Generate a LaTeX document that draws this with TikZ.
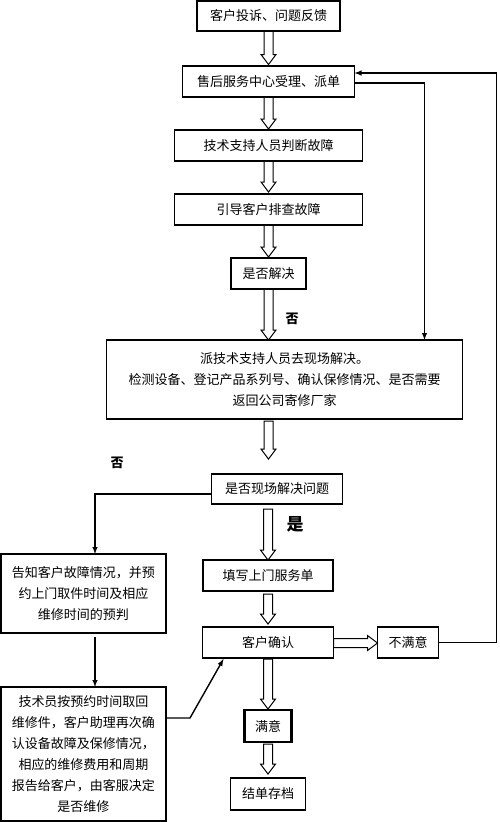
\documentclass[tikz,border=0pt]{standalone}
\usepackage{fontspec}
\setmainfont{Noto Sans CJK SC}
\usetikzlibrary{arrows,calc,positioning}
\tikzset{
flow/.style={>=latex,x=1pt,y=-1pt,node distance=33pt,line width=1.4pt},
stage/.style={rectangle,draw,line width=1.4pt,inner sep=2pt,outer sep=0pt,
    align=center,minimum width=#1,minimum height=31pt,
    font=\fontsize{13}{21}\selectfont},
stage/.default={130pt},
hollow/.style={line width=1pt,to path={
    let \p1=(\tikztostart), \p2=(\tikztotarget),
        \n1={atan2(\y2-\y1,\x2-\x1)} in
    ($(\p1)+(\n1+90:4.5pt)$) -- ($(\p2)+(\n1+180:10pt)+(\n1+90:4.5pt)$)
    -- ($(\p2)+(\n1+180:10pt)+(\n1+90:7.5pt)$) -- (\p2)
    -- ($(\p2)+(\n1+180:10pt)+(\n1-90:7.5pt)$)
    -- ($(\p2)+(\n1+180:10pt)+(\n1-90:4.5pt)$)
    -- ($(\p1)+(\n1-90:4.5pt)$) -- cycle}},
answer/.style={font=\bfseries\fontsize{13}{13}\selectfont},
}
\begin{document}
\begin{tikzpicture}[flow]
    \useasboundingbox (0,0) rectangle (500,822);

    \node[stage=143pt,line width=2.2pt,minimum height=30pt] (c1) at (268.5,16) {客户投诉、问题反馈};
    \node[stage=172pt,below=35pt of c1] (c2) {售后服务中心受理、派单};
    \node[stage=188pt,below=of c2] (c3) {技术支持人员判断故障};
    \node[stage=188pt,below=of c3] (c4) {引导客户排查故障};
    \node[stage=75pt,below=of c4] (c5) {是否解决};
    \node[stage=356pt,minimum height=79pt,below=51pt of c5,xshift=16pt] (c6)
        {派技术支持人员去现场解决。\\检测设备、登记产品系列号、确认保修情况、是否需要\\返回公司寄修厂家};
    \node[stage=131pt,minimum height=30pt,below=55pt of c6,xshift=-7.5pt] (c7) {是否现场解决问题};
    \node[stage=130pt,below=56pt of c7,xshift=-9pt] (c9) {填写上门服务单};
    \node[stage=131pt,below=36pt of c9] (c10) {客户确认};
    \node[stage=61pt,right=44pt of c10] (c11) {不满意};
    \node[stage=47pt,minimum height=32pt,line width=2.2pt,below=52pt of c10] (c13) {满意};
    \node[stage=75pt,minimum height=32pt,below=36pt of c13] (c14) {结单存档};
    \node[stage=165pt,minimum height=79pt] (c8) at (83.5,593.5)
        {告知客户故障情况，并预\\约上门取件时间及相应\\维修时间的预判};
    \node[stage=165pt,minimum height=134pt,below=54pt of c8] (c12)
        {技术员按预约时间取回\\维修件，客户助理再次确\\认设备故障及保修情况，\\相应的维修费用和周期\\报告给客户，由客服决定\\是否维修};

    \node[answer] (n1) at (292,319) {否};
    \node[answer] (n2) at (117,463) {否};
    \node[answer,font=\bfseries\fontsize{17}{17}\selectfont] (y1) at (295,524) {是};

    % main column
    \draw[hollow] (c1.south) to ([yshift=1.5pt]c2.north);
    \draw[hollow] (c2.south) to ([yshift=1pt]c3.north);
    \draw[hollow] (c3.south) to ([yshift=2pt]c4.north);
    \draw[hollow] (c4.south) to ([yshift=1pt]c5.north);
    \draw[hollow] (c5.south) to (c5.south |- c6.north);
    \draw[hollow] ([yshift=-2pt]c6.south -| c4.south) to ([yshift=15pt]c7.north -| c4.south);
    \draw[hollow] ([yshift=-5pt]c7.south -| c9.north) to (c9.north);
    \draw[hollow] ([yshift=-3pt]c9.south) to ([yshift=3pt]c10.north);
    \draw[hollow] ([yshift=-1pt]c10.south) to ([yshift=1pt]c13.north);
    \draw[hollow] ([yshift=-2pt]c13.south) to ([yshift=4pt]c14.north);
    \draw[hollow] ([yshift=-0.5pt]c10.east) to ([yshift=-0.5pt]c11.west);

    % side lines
    \draw[->] ([yshift=-1.5pt]c2.east) -| ([xshift=-38pt]c6.north east);
    \draw[->] (c11.east) -- ++(58,0) |- ([yshift=8.5pt]c2.east);
    \draw[->] ([yshift=-5pt]c7.west) -| ([xshift=11.5pt]c8.north);
    \draw[->] ([xshift=11.5pt,yshift=-4pt]c8.south) -- ([xshift=11.5pt]c12.north);
    \draw[->] ([yshift=36pt]c12.east) -- ++(24,0) -- ([xshift=21pt,yshift=-1pt]c10.south west);
\end{tikzpicture}
\end{document}
